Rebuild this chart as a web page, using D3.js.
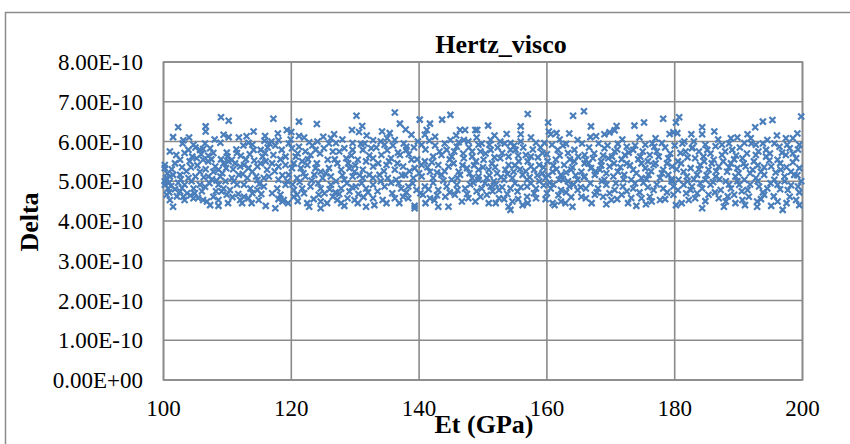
<!DOCTYPE html>
<html>
<head>
<meta charset="utf-8">
<script src="https://cdn.jsdelivr.net/npm/d3@7"></script>
<style>
  html, body { margin: 0; padding: 0; background: #ffffff; }
  svg { display: block; }
  text { font-family: "Liberation Serif", "Times New Roman", serif; fill: #000; }
</style>
</head>
<body>
<svg id="chart" width="850" height="444"></svg>
<script>
// ---- data (Delta in units of 1E-10) ----
const title = "Hertz_visco";
const xTitle = "Et (GPa)";
const yTitle = "Delta";
const xTicks = [100, 120, 140, 160, 180, 200];
const yTicks = [0, 1, 2, 3, 4, 5, 6, 7, 8];
const yTickLabels = ["0.00E+00","1.00E-10","2.00E-10","3.00E-10","4.00E-10","5.00E-10","6.00E-10","7.00E-10","8.00E-10"];

const segA = [[109.0,6.61],[110.2,6.52],[102.3,6.36],[106.6,6.38],[106.6,6.25],[101.5,6.11],[103.1,6.03],[109.4,6.17],[110.2,6.11],[111.8,6.10],[113.0,6.13],[114.1,6.25],[108.9,5.97],[113.3,5.97],[113.9,5.92],[104.7,5.92],[103.9,5.79],[103.3,5.71],[105.7,5.79],[106.2,5.81],[107.3,5.83],[107.8,5.71],[109.9,5.72],[111.5,5.71],[114.1,5.79],[115.2,5.79],[102.0,5.66],[100.2,5.41],[100.2,5.33],[101.8,5.45],[102.6,5.54],[104.1,5.50],[105.2,5.58],[106.2,5.54],[107.0,5.50],[108.1,5.37],[108.6,5.29],[109.4,5.45],[110.2,5.50],[110.7,5.54],[111.2,5.45],[112.0,5.37],[112.6,5.41],[113.3,5.33],[113.9,5.24],[114.7,5.37],[115.2,5.45],[116.0,5.50],[116.2,5.29],[101.0,5.12],[101.5,5.16],[102.6,5.16],[103.9,5.08],[105.0,5.12],[105.7,5.24],[107.0,5.12],[107.8,5.24],[108.9,5.12],[109.7,5.00],[110.7,5.08],[111.8,5.16],[113.1,5.08],[114.7,5.03],[115.7,5.08],[100.2,5.00],[100.2,4.91],[100.7,4.82],[102.3,4.96],[103.3,4.91],[104.7,4.82],[105.7,4.91],[108.6,4.91],[109.4,4.82],[110.4,4.78],[111.0,5.00],[112.6,4.91],[113.6,4.82],[114.7,4.78],[115.7,4.87],[100.5,4.66],[101.0,4.53],[101.5,4.36],[102.6,4.74],[103.1,4.61],[103.3,4.53],[104.7,4.57],[106.2,4.53],[106.8,4.49],[107.3,4.40],[107.8,4.61],[108.6,4.53],[108.6,4.38],[112.0,4.53],[112.6,4.61],[112.3,4.45],[113.3,4.57],[114.9,4.53],[116.0,4.38],[109.1,4.74],[109.9,4.66],[113.9,4.70],
[104.5,5.62],[105.0,5.85],[105.9,5.68],[106.5,5.95],[107.0,5.64],[107.5,5.55],[104.3,5.35],[105.3,5.40],[106.6,5.30],[103.6,5.25],[102.9,5.35],[101.3,5.30],[100.6,5.20],[100.4,5.08],[100.9,4.97],[101.2,4.88],[100.9,4.72],[101.8,4.80],[102.1,4.62],[102.9,4.83],[103.7,4.70],[104.2,4.64],[104.9,4.70],[105.4,4.58],[106.0,4.75],[106.5,4.86],[107.2,4.95],[107.6,5.05],[108.3,5.02],[108.2,4.75],[109.2,5.20],[109.8,5.33],[110.0,5.62],[110.9,5.30],[111.4,5.80],[111.5,4.92],[112.1,5.64],[112.4,5.18],[112.9,5.55],[113.5,5.68],[114.2,5.52],[114.5,5.12],[115.0,4.93],[115.5,5.62],[116.3,5.85],[111.7,4.68],[110.8,4.60],[110.1,4.45],[113.8,4.45],[115.3,4.68],[104.0,6.10],[108.0,6.05],[112.5,5.90],[115.8,6.02],[103.0,5.95],[101.0,5.75],[102.7,5.05],[104.4,5.00],[106.3,5.10],[109.0,5.55]];

const segB = [[117.2,6.57],[121.2,6.50],[124.0,6.44],[130.2,6.65],[131.1,6.39],[130.6,6.24],[129.5,6.29],[119.3,6.29],[120.0,6.24],[121.2,6.14],[126.7,6.18],[126.2,6.08],[115.9,6.14],[116.9,6.00],[118.0,6.03],[122.8,5.98],[124.1,6.00],[127.0,5.96],[129.6,5.96],[130.9,5.94],[132.8,6.03],[115.9,5.71],[117.2,5.66],[118.5,5.79],[120.1,5.83],[121.2,5.87],[122.2,5.75],[123.8,5.79],[125.1,5.83],[126.5,5.75],[128.3,5.83],[129.6,5.79],[131.2,5.79],[132.5,5.83],[119.1,5.62],[120.7,5.62],[121.7,5.50],[123.0,5.66],[125.7,5.54],[127.2,5.45],[128.6,5.58],[130.4,5.54],[131.7,5.50],[117.0,5.45],[118.0,5.37],[119.1,5.41],[120.1,5.33],[121.5,5.33],[122.5,5.41],[123.8,5.33],[124.6,5.24],[125.9,5.33],[127.8,5.29],[129.1,5.33],[129.9,5.24],[131.2,5.29],[132.8,5.37],[116.5,5.12],[118.0,5.04],[119.6,5.16],[120.9,5.08],[122.2,5.12],[123.6,5.16],[124.9,5.08],[126.2,5.12],[128.3,5.04],[129.6,5.12],[131.2,5.08],[132.2,5.16],[117.8,4.82],[119.1,4.91],[120.4,4.78],[121.7,4.82],[123.0,4.87],[124.6,4.82],[126.2,4.91],[127.8,4.82],[129.1,4.74],[130.1,4.87],[131.7,4.82],[132.8,4.91],[118.3,4.66],[118.6,4.49],[118.8,4.53],[120.4,4.61],[120.9,4.66],[122.5,4.45],[122.8,4.36],[124.3,4.66],[124.6,4.49],[124.6,4.32],[126.5,4.61],[127.2,4.53],[127.8,4.45],[128.3,4.38],[128.8,4.57],[129.9,4.53],[131.7,4.36],[132.8,4.57],[117.5,4.32],
[117.5,5.90],[118.3,5.55],[119.6,5.95],[120.4,5.45],[121.0,5.70],[121.9,5.20],[122.6,5.55],[123.3,5.90],[124.0,5.45],[124.5,5.70],[125.4,5.20],[125.9,5.95],[126.8,5.55],[127.5,5.75],[128.0,5.15],[128.9,5.45],[129.4,5.65],[130.0,5.40],[130.7,5.15],[131.5,5.95],[132.2,5.65],[117.4,5.25],[118.6,5.15],[119.4,5.00],[120.2,4.92],[121.3,4.98],[122.0,4.70],[123.2,5.02],[124.2,4.95],[125.2,4.70],[126.0,4.80],[127.0,5.00],[127.5,4.68],[128.7,4.95],[129.5,4.85],[130.5,4.68],[131.0,4.95],[132.0,4.72],[117.0,4.70],[118.0,4.55],[119.5,4.45],[121.0,4.50],[123.5,4.55],[125.6,4.45],[126.9,4.72],[130.4,4.45],[131.3,4.60],[116.6,5.95],[119.9,6.05],[122.0,6.10],[125.0,6.12],[128.0,6.05],[131.8,6.15],[117.9,6.20]];

const segC = [[136.2,6.73],[144.9,6.67],[137.0,6.45],[140.1,6.55],[141.7,6.45],[143.6,6.55],[141.2,6.29],[140.9,6.17],[146.4,6.29],[147.2,6.29],[148.8,6.29],[134.2,6.25],[135.4,6.21],[138.8,6.17],[144.9,6.04],[147.0,6.04],[147.7,6.00],[134.6,5.92],[136.2,6.04],[138.0,5.87],[140.4,5.92],[144.3,5.79],[145.9,5.87],[148.3,5.75],[149.3,5.92],[132.8,5.58],[134.1,5.66],[135.6,5.58],[137.0,5.66],[138.0,5.79],[138.8,5.54],[140.9,5.50],[142.2,5.62],[143.5,5.66],[145.1,5.62],[147.0,5.58],[148.3,5.62],[134.9,5.41],[136.2,5.29],[137.5,5.37],[139.3,5.33],[140.4,5.41],[141.7,5.24],[143.0,5.41],[144.6,5.37],[146.2,5.24],[147.5,5.33],[149.3,5.29],[132.8,5.08],[133.8,5.16],[135.1,5.08],[136.4,5.04],[137.8,5.16],[139.1,5.08],[140.4,5.12],[142.2,5.08],[143.5,5.16],[145.1,5.04],[146.4,5.16],[148.3,5.08],[149.3,5.12],[134.6,4.87],[135.6,4.96],[137.2,4.82],[138.3,4.87],[139.6,4.78],[140.9,4.87],[142.2,4.96],[143.0,4.78],[144.3,4.87],[145.9,4.91],[147.2,4.82],[148.5,4.96],[134.3,4.53],[134.9,4.45],[136.2,4.57],[137.5,4.61],[138.3,4.57],[139.3,4.38],[139.3,4.32],[140.6,4.66],[141.7,4.57],[143.0,4.36],[144.1,4.61],[144.6,4.36],[145.6,4.66],[146.7,4.49],[147.7,4.57],[148.8,4.49],[149.6,4.61],
[133.3,5.85],[134.0,6.00],[135.0,5.78],[135.9,5.90],[136.7,5.72],[137.6,5.95],[138.4,5.68],[139.2,5.85],[139.8,6.00],[141.0,5.80],[141.6,6.02],[142.5,5.90],[143.2,5.75],[144.0,5.95],[144.8,5.55],[145.5,5.75],[146.2,5.98],[146.9,5.70],[147.8,5.85],[148.9,5.50],[133.6,5.45],[134.5,5.25],[135.3,5.50],[136.6,5.45],[137.3,5.15],[138.5,5.25],[139.7,5.55],[140.0,5.20],[141.3,5.35],[142.0,5.48],[142.8,5.22],[144.0,5.25],[145.4,5.45],[146.0,5.08],[146.8,5.40],[147.9,5.20],[148.6,5.40],[133.5,4.75],[134.0,5.00],[135.8,4.70],[136.8,4.95],[138.0,4.72],[139.0,4.95],[140.2,4.70],[141.5,4.80],[142.8,4.65],[143.8,5.02],[144.8,4.72],[146.0,4.78],[147.5,4.68],[148.0,4.92],[149.0,4.75],[135.0,6.08],[137.9,6.30],[142.5,6.12],[145.8,6.15],[149.0,6.10],[133.0,4.40],[136.9,4.45],[141.0,4.45],[142.4,4.52]];

const segD = [[157.0,6.69],[164.1,6.65],[165.8,6.76],[150.8,6.40],[149.1,6.29],[155.9,6.38],[155.9,6.18],[160.2,6.48],[160.3,6.25],[160.6,6.18],[161.5,6.21],[153.7,6.19],[151.2,6.04],[152.7,6.00],[154.3,5.96],[155.9,6.00],[158.3,5.97],[159.6,5.96],[163.0,5.94],[164.8,6.04],[149.6,5.75],[151.2,5.79],[153.0,5.71],[154.3,5.79],[155.1,5.79],[156.7,5.66],[157.5,5.62],[159.3,5.71],[161.7,5.79],[163.3,5.71],[164.3,5.79],[165.9,5.66],[150.1,5.54],[151.4,5.45],[152.7,5.58],[154.0,5.41],[155.6,5.50],[157.5,5.37],[158.8,5.41],[160.1,5.50],[161.4,5.54],[162.7,5.41],[164.3,5.50],[165.9,5.45],[150.9,5.29],[152.2,5.20],[153.5,5.29],[154.8,5.24],[156.2,5.16],[158.0,5.29],[159.3,5.20],[160.9,5.24],[162.2,5.16],[163.8,5.29],[165.4,5.24],[149.3,5.04],[150.6,5.08],[151.7,5.00],[153.3,5.04],[154.6,5.08],[156.9,5.04],[158.8,5.00],[159.8,5.08],[160.4,4.96],[161.9,5.04],[163.3,5.00],[164.8,5.04],[149.8,4.82],[151.2,4.87],[152.5,4.78],[154.3,4.82],[155.4,4.74],[156.9,4.87],[158.3,4.82],[160.6,4.82],[162.2,4.78],[163.5,4.87],[164.8,4.78],[166.1,4.82],[150.6,4.66],[150.9,4.45],[152.5,4.57],[154.0,4.36],[154.3,4.28],[154.6,4.49],[156.2,4.40],[156.9,4.61],[158.3,4.57],[160.9,4.45],[161.2,4.40],[162.2,4.49],[162.9,4.45],[164.0,4.36],[165.4,4.61],
[149.8,5.95],[150.4,5.70],[151.0,5.92],[151.8,5.60],[152.3,5.85],[153.4,5.95],[154.0,5.62],[154.9,5.90],[155.5,5.65],[156.3,5.85],[157.0,5.50],[157.8,5.80],[158.6,5.60],[159.0,5.85],[160.0,5.68],[160.8,5.92],[161.0,5.40],[162.0,5.65],[162.5,5.90],[163.6,5.55],[164.0,5.35],[164.9,5.62],[165.5,5.95],[150.0,5.35],[151.0,5.15],[151.9,5.35],[152.8,5.10],[153.8,5.18],[155.0,5.40],[155.8,5.30],[156.7,5.25],[157.3,5.10],[158.5,5.15],[159.5,5.35],[160.2,5.15],[161.5,5.30],[162.5,5.05],[163.0,5.22],[164.5,5.15],[165.8,5.10],[150.3,4.95],[151.5,4.75],[152.0,4.92],[153.0,4.85],[153.8,4.68],[155.0,4.95],[155.9,4.85],[157.5,4.95],[158.0,4.70],[159.5,4.90],[160.0,4.70],[161.0,4.92],[161.8,4.65],[163.0,4.72],[164.2,4.92],[165.3,4.85],[152.0,4.45],[153.3,4.55],[155.5,4.55],[157.0,4.45],[159.8,4.55],[163.8,4.60],[151.8,6.15],[157.5,6.10],[162.0,6.05],[163.5,6.20]];

const segE = [[166.9,6.38],[170.9,6.39],[173.7,6.40],[175.2,6.48],[178.2,6.57],[180.2,6.48],[180.7,6.61],[170.6,6.28],[169.0,6.18],[169.8,6.23],[166.8,6.11],[167.7,6.13],[179.2,6.19],[179.8,6.23],[180.4,6.21],[182.6,6.18],[169.0,5.83],[171.1,5.94],[172.5,5.87],[173.5,5.79],[175.4,5.92],[176.8,5.87],[178.0,5.96],[170.6,5.75],[167.2,5.58],[166.1,5.54],[168.5,5.50],[169.6,5.58],[172.2,5.66],[174.6,5.62],[176.1,5.66],[177.5,5.62],[179.0,5.58],[180.9,5.71],[181.7,5.75],[166.9,5.33],[168.3,5.29],[169.8,5.37],[171.1,5.24],[172.5,5.45],[173.5,5.29],[175.4,5.33],[176.7,5.41],[178.2,5.29],[179.6,5.37],[181.4,5.24],[182.5,5.33],[165.9,5.12],[167.5,5.16],[169.0,5.04],[170.4,5.12],[172.1,5.16],[173.2,5.04],[174.8,5.08],[175.9,5.16],[177.7,5.08],[179.0,5.16],[180.6,5.04],[181.9,5.12],[168.0,4.82],[169.3,4.91],[170.6,4.78],[171.9,4.87],[173.5,4.82],[175.1,4.96],[176.7,4.78],[178.2,4.82],[179.8,4.87],[181.4,4.91],[182.5,4.78],[166.1,4.57],[167.5,4.66],[168.8,4.61],[170.1,4.53],[171.7,4.66],[172.7,4.45],[174.0,4.38],[174.8,4.57],[176.1,4.61],[176.4,4.49],[177.7,4.53],[179.8,4.66],[181.1,4.45],[182.2,4.53],
[166.6,5.85],[167.4,5.70],[168.1,5.95],[168.8,5.65],[169.5,5.90],[170.2,5.62],[171.0,5.80],[171.7,5.55],[172.8,5.72],[173.8,5.90],[174.3,5.55],[175.0,5.75],[175.8,5.50],[176.5,5.95],[177.2,5.75],[178.5,5.85],[179.3,5.70],[180.0,5.90],[180.5,5.50],[181.2,5.95],[182.0,5.60],[182.8,5.85],[166.5,5.45],[167.6,5.25],[168.5,5.40],[169.3,5.20],[170.5,5.45],[171.5,5.35],[172.0,5.05],[173.0,5.40],[174.0,5.20],[174.8,5.45],[175.6,5.05],[176.3,5.25],[177.0,5.45],[178.0,5.20],[178.8,5.45],[179.5,5.05],[180.3,5.30],[181.0,5.45],[182.0,5.00],[166.8,4.95],[167.8,4.72],[168.6,5.00],[169.8,4.70],[170.8,4.95],[172.5,4.75],[173.8,4.95],[174.5,4.72],[175.8,4.85],[177.2,4.92],[178.8,4.72],[179.5,5.00],[180.5,4.78],[181.8,4.70],[167.0,4.45],[169.3,4.42],[171.0,4.55],[173.2,4.58],[175.5,4.42],[178.5,4.55],[180.2,4.40],[171.8,6.05],[174.5,6.10],[177.0,6.08],[181.5,6.00]];

const segF = [[184.3,6.36],[184.3,6.18],[186.2,6.25],[192.6,6.36],[193.8,6.50],[195.3,6.54],[199.8,6.63],[191.4,6.18],[188.8,6.08],[191.9,6.08],[197.4,6.08],[198.5,6.08],[194.5,6.04],[182.7,5.83],[183.8,5.75],[185.1,5.79],[187.4,5.92],[189.0,5.79],[190.9,5.96],[192.7,5.92],[194.3,5.79],[196.4,5.87],[198.0,5.83],[199.5,5.92],[183.2,5.58],[184.5,5.62],[186.1,5.54],[187.4,5.66],[188.8,5.45],[190.6,5.58],[192.7,5.66],[194.3,5.62],[196.1,5.54],[197.4,5.66],[199.0,5.58],[184.0,5.41],[185.3,5.29],[186.9,5.37],[188.2,5.24],[189.8,5.33],[191.1,5.37],[192.2,5.29],[193.5,5.24],[195.1,5.37],[196.6,5.29],[198.2,5.24],[199.5,5.33],[183.5,5.16],[184.8,5.04],[186.4,5.12],[188.0,5.00],[189.5,5.12],[190.9,5.04],[192.7,5.08],[194.0,5.16],[195.6,5.04],[197.2,5.12],[198.7,5.16],[199.8,5.00],[182.7,4.87],[184.3,4.82],[185.6,4.91],[187.2,4.78],[188.8,4.82],[190.1,4.91],[191.4,4.78],[193.2,4.87],[194.5,4.82],[196.1,4.91],[197.7,4.78],[199.3,4.87],[183.2,4.57],[184.3,4.32],[185.3,4.66],[186.9,4.57],[187.7,4.36],[188.0,4.49],[189.3,4.66],[190.6,4.53],[191.6,4.61],[192.9,4.49],[192.9,4.36],[194.0,4.66],[195.1,4.38],[196.1,4.49],[196.9,4.28],[198.0,4.61],[199.0,4.53],
[183.0,6.00],[184.8,5.92],[185.6,5.70],[186.4,5.88],[187.9,5.75],[188.5,5.95],[189.6,5.65],[190.2,5.85],[191.3,5.70],[192.0,5.95],[193.1,5.75],[193.8,5.95],[194.9,5.70],[195.6,5.95],[196.8,5.72],[197.6,5.92],[198.5,5.70],[199.3,5.80],[183.8,5.30],[184.6,5.50],[185.8,5.45],[186.5,5.25],[187.6,5.50],[188.5,5.35],[189.3,5.55],[190.0,5.20],[190.8,5.45],[191.8,5.20],[192.4,5.50],[193.0,5.40],[194.0,5.35],[194.8,5.52],[195.8,5.22],[196.5,5.45],[197.5,5.35],[198.5,5.48],[199.2,5.15],[183.0,5.05],[184.0,4.95],[185.0,5.15],[186.0,4.98],[187.0,5.05],[188.5,4.92],[189.8,5.00],[190.5,4.75],[191.8,4.92],[193.0,5.00],[193.8,4.72],[195.0,4.95],[196.5,4.80],[197.2,5.00],[198.2,4.90],[199.5,4.72],[183.5,4.70],[184.8,4.50],[186.3,4.72],[188.3,4.62],[189.5,4.45],[191.0,4.40],[193.5,4.55],[195.5,4.62],[197.5,4.45],[199.5,4.40],[186.8,6.05],[189.8,6.10],[196.0,6.15],[199.2,6.20]];

const allPoints = [].concat(segA, segB, segC, segD, segE, segF);

// ---- layout ----
const svg = d3.select("#chart");
const plot = { left: 163.5, right: 802.5, top: 62, bottom: 380 };
const x = d3.scaleLinear().domain([100, 200]).range([plot.left, plot.right]);
const y = d3.scaleLinear().domain([0, 8]).range([plot.bottom, plot.top]);
const gridColor = "#8a8a8a";
const markerColor = "#4a7ebb";

// outer chart frame
svg.append("rect")
  .attr("x", 5.5).attr("y", 12.5).attr("width", 1200).attr("height", 1200)
  .attr("fill", "none").attr("stroke", "#8c8c8c").attr("stroke-width", 1.5);

// gridlines
const g = svg.append("g");
g.selectAll("line.hy").data(yTicks).enter().append("line")
  .attr("x1", plot.left).attr("x2", plot.right)
  .attr("y1", d => y(d)).attr("y2", d => y(d))
  .attr("stroke", gridColor).attr("stroke-width", 1.6);
g.selectAll("line.vx").data(xTicks).enter().append("line")
  .attr("y1", plot.top).attr("y2", plot.bottom)
  .attr("x1", d => x(d)).attr("x2", d => x(d))
  .attr("stroke", gridColor).attr("stroke-width", 1.6);
g.append("rect")
  .attr("x", plot.left).attr("y", plot.top)
  .attr("width", plot.right - plot.left).attr("height", plot.bottom - plot.top)
  .attr("fill", "none").attr("stroke", gridColor).attr("stroke-width", 1.6);

// markers
const xMark = "M-3,-3L3,3M-3,3L3,-3";
svg.append("g").selectAll("path").data(allPoints).enter().append("path")
  .attr("d", xMark)
  .attr("transform", d => `translate(${x(d[0])},${y(d[1])})`)
  .attr("stroke", markerColor).attr("stroke-width", 2.2).attr("fill", "none");

// y tick labels
svg.append("g").selectAll("text").data(yTicks).enter().append("text")
  .attr("x", 143).attr("y", d => y(d)).attr("dy", "0.35em")
  .attr("text-anchor", "end").attr("font-size", 23)
  .text((d, i) => yTickLabels[i]);

// x tick labels
svg.append("g").selectAll("text").data(xTicks).enter().append("text")
  .attr("x", d => x(d)).attr("y", 416)
  .attr("text-anchor", "middle").attr("font-size", 23)
  .text(d => d);

// titles
svg.append("text").attr("x", 501).attr("y", 53)
  .attr("text-anchor", "middle").attr("font-size", 26).attr("font-weight", "bold")
  .text(title);
svg.append("text").attr("x", 484).attr("y", 433)
  .attr("text-anchor", "middle").attr("font-size", 26).attr("font-weight", "bold")
  .text(xTitle);
svg.append("text").attr("transform", "translate(38,222) rotate(-90)")
  .attr("text-anchor", "middle").attr("font-size", 26).attr("font-weight", "bold")
  .text(yTitle);
</script>
</body>
</html>
